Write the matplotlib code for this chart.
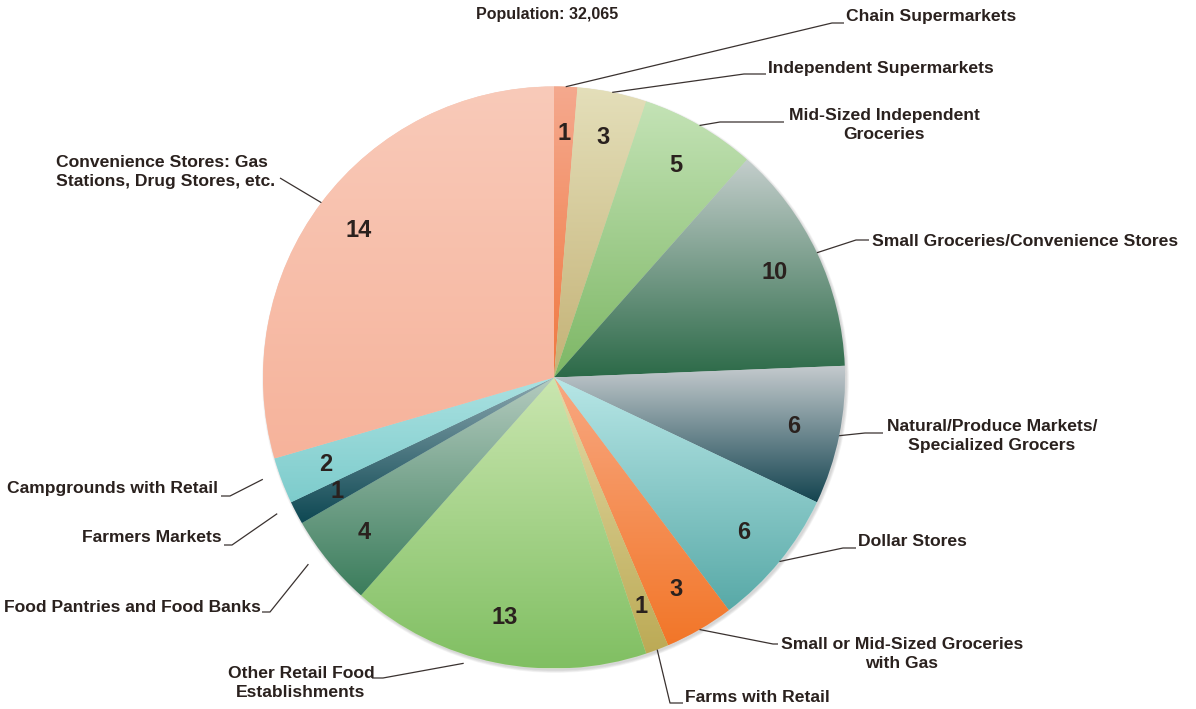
import numpy as np
import matplotlib
matplotlib.use("Agg")
import matplotlib.pyplot as plt
from matplotlib.colors import LinearSegmentedColormap
from matplotlib.patches import Circle

plt.rcParams['font.family'] = ['Liberation Sans', 'DejaVu Sans']

W, H = 1196, 709
txt_col = '#2a211e'

# categories, clockwise from 12 o'clock
names = ['Chain Supermarkets', 'Independent Supermarkets',
         'Mid-Sized Independent\nGroceries', 'Small Groceries/Convenience Stores',
         'Natural/Produce Markets/\nSpecialized Grocers', 'Dollar Stores',
         'Small or Mid-Sized Groceries\nwith Gas', 'Farms with Retail',
         'Other Retail Food\nEstablishments', 'Food Pantries and Food Banks',
         'Farmers Markets', 'Campgrounds with Retail',
         'Convenience Stores: Gas\nStations, Drug Stores, etc.']
counts = [1, 3, 5, 10, 6, 6, 3, 1, 13, 4, 1, 2, 14]          # numbers printed on slices
slice_sizes = [1, 3, 5, 10, 6, 6, 3, 1, 13, 4, 1, 2, 23]     # wedge sizes as drawn
top_cols = ['#f5a98e', '#e4dfba', '#c4e3b6', '#c4cecc', '#c5cbce', '#b8e7e7',
            '#f8a882', '#e3dba8', '#cae6b0', '#b4cbbf', '#8ba7af', '#aae1e1', '#f9cab9']
bot_cols = ['#f07840', '#c4b276', '#7db765', '#2c6a48', '#144450', '#58a9a7',
            '#f27628', '#bcaa55', '#80bf62', '#3b7d5c', '#0e4853', '#7dcccc', '#f6b39b']

# label layout: text x, y, ha, stub start x, stub end x, stub y, start radius / angle tweak
lab_x = [846, 768, 884, 872, 992, 858, 902, 685, 301, 261, 222, 218, 166]
lab_y = [16, 68, 125, 242, 436, 542, 654, 698, 683, 607, 538, 489, 172]
lab_ha = ['left', 'left', 'center', 'left', 'center', 'left', 'center', 'left',
          'center', 'right', 'right', 'right', 'center']
stub_x0 = [832, 744, 720, 856, 865, 843, 773, 670, 383, 270, 232, 230, 280]
stub_x1 = [844, 766, 784, 869, 883, 856, 778, 683, 372, 262, 224, 221, 280]
stub_y = [23, 74, 122, 240, 433, 548, 644, 703, 678, 612, 545, 496, 178]
rfac = [1.0, 1.0, 1.0, 1.0, 1.0, 1.0, 1.0, 1.0, 1.03, 1.06, 1.06, 1.06, 1.0]
ang_off = [0, 0, 0, 0, 0, 0, 0, 0, 6, 2, 1.5, 1.5, 0]

cx, cy, R = 554, 377.5, 291

fig = plt.figure(figsize=(W / 100, H / 100), dpi=100)
ax = fig.add_axes([0, 0, 1, 1])

# soft shadow under the pie
for i in range(5):
    ax.add_patch(Circle((cx + 1.5, cy + 2), R + 0.6 * i, facecolor='#808080',
                        edgecolor='none', alpha=0.07, zorder=0))

wedges, texts = ax.pie(slice_sizes, labels=counts, center=(cx, cy), radius=R,
                       startangle=-90, counterclock=True, labeldistance=0.84,
                       colors=top_cols, wedgeprops=dict(linewidth=0, zorder=1))

grad = np.linspace(0, 1, 256)[:, None]
for w, c0, c1 in zip(wedges, top_cols, bot_cols):
    bb = w.get_path().get_extents()
    cmap = LinearSegmentedColormap.from_list('g', [c0, c1])
    im = ax.imshow(grad, cmap=cmap, extent=(bb.x0, bb.x1, bb.y1, bb.y0),
                   origin='upper', aspect='auto', interpolation='bilinear', zorder=2)
    im.set_clip_path(w)

for t in texts:
    t.set_ha('center')
    t.set_va('center')
    t.set_fontsize(17)
    t.set_fontweight('bold')
    t.set_color(txt_col)
    t.set_zorder(5)

for i, w in enumerate(wedges):
    mid = np.deg2rad((w.theta1 + w.theta2) / 2 + ang_off[i])
    ex = cx + R * rfac[i] * np.cos(mid)
    ey = cy + R * rfac[i] * np.sin(mid)
    ax.plot([ex, stub_x0[i], stub_x1[i]], [ey, stub_y[i], stub_y[i]],
            color='#3a3230', lw=0.9, zorder=4, solid_capstyle='butt')
    ax.text(lab_x[i], lab_y[i], names[i], ha=lab_ha[i], va='center',
            multialignment='center' if i != 12 else 'left',
            fontsize=12.6, fontweight='bold', color=txt_col, linespacing=1.35, zorder=5)

ax.text(547, 14, 'Population: 32,065', ha='center', va='center', fontsize=11.5,
        fontweight='bold', color=txt_col)

ax.set_xlim(0, W)
ax.set_ylim(H, 0)
ax.set_aspect('auto')
ax.axis('off')

fig.savefig('out.png', dpi=100, facecolor='white')
